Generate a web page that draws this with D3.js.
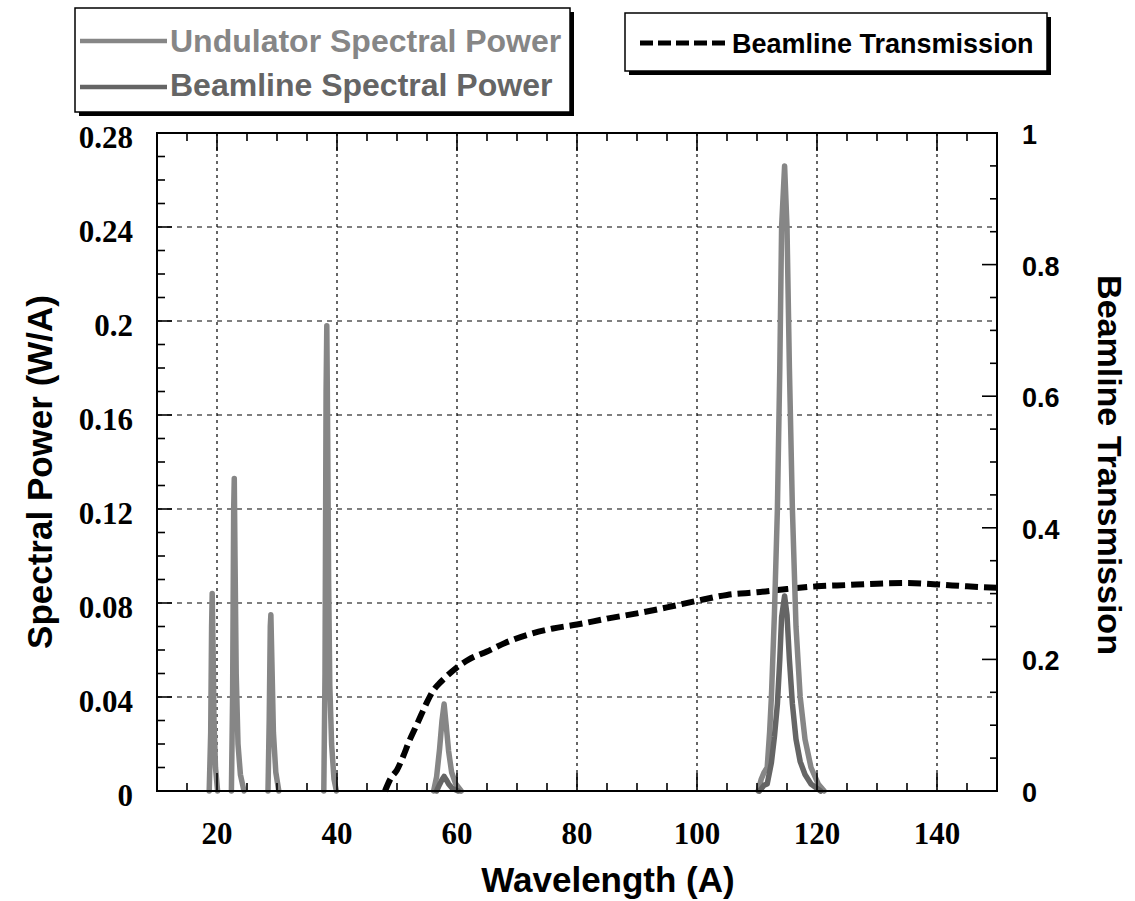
<!DOCTYPE html>
<html><head><meta charset="utf-8">
<script src="https://cdn.jsdelivr.net/npm/d3@7"></script>
<style>body{margin:0;background:#fff}svg{display:block}</style>
</head><body>
<svg id="c" width="1135" height="901"></svg>
<script>
// ---- data (wavelength in Angstrom) ----
const xMajorTicks = [20, 40, 60, 80, 100, 120, 140];
const yLeftTicks = [0, 0.04, 0.08, 0.12, 0.16, 0.2, 0.24, 0.28];
const yLeftLabels = ["0", "0.04", "0.08", "0.12", "0.16", "0.2", "0.24", "0.28"];
const yRightTicks = [0, 0.2, 0.4, 0.6, 0.8, 1];
const yRightLabels = ["0", "0.2", "0.4", "0.6", "0.8", "1"];

// Undulator spectral power (W/A), one segment per harmonic peak
const undulatorSegments = [
  [[18.7,0],[18.95,0.025],[19.1,0.07],[19.2,0.084],[19.35,0.06],[19.5,0.03],[19.75,0.01],[20.1,0]],
  [[22.4,0],[22.6,0.04],[22.78,0.12],[22.88,0.133],[23.0,0.10],[23.2,0.05],[23.5,0.02],[23.9,0.007],[24.5,0]],
  [[28.5,0],[28.7,0.03],[28.88,0.07],[28.98,0.075],[29.15,0.055],[29.4,0.025],[29.8,0.008],[30.3,0]],
  [[37.8,0],[38.0,0.05],[38.18,0.17],[38.3,0.198],[38.45,0.15],[38.6,0.09],[38.8,0.045],[39.1,0.02],[39.5,0.005],[39.9,0]],
  [[56.1,0],[56.6,0.006],[57.1,0.018],[57.5,0.03],[57.85,0.037],[58.2,0.028],[58.6,0.017],[59.1,0.008],[59.8,0.003],[60.7,0]],
  [[110.2,0],[110.7,0.005],[111.2,0.008],[111.7,0.01],[112.1,0.025],[112.4,0.04],[112.9,0.075],[113.4,0.12],[113.8,0.18],[114.1,0.24],[114.6,0.266],[115.0,0.24],[115.4,0.18],[115.9,0.12],[116.5,0.07],[117.2,0.04],[118.0,0.022],[119.0,0.01],[120.2,0.003],[121.2,0]]
];

// Beamline spectral power (W/A)
const beamlineSegments = [
  [[56.6,0],[57.1,0.0028],[57.5,0.0048],[57.85,0.0062],[58.2,0.0048],[58.6,0.003],[59.2,0.0012],[60.2,0]],
  [[110.4,0],[111.2,0.0025],[111.7,0.003],[112.4,0.012],[112.9,0.023],[113.4,0.037],[113.8,0.056],[114.1,0.074],[114.6,0.083],[115.0,0.075],[115.4,0.056],[115.9,0.037],[116.5,0.022],[117.2,0.0125],[118.0,0.007],[119.0,0.003],[120.6,0]]
];

// Beamline transmission (right axis)
const transWl = [48, 49, 50, 51, 52, 53, 54, 55, 56, 57, 58, 60, 62, 65, 68, 72, 76, 80, 85, 90, 95, 100, 105, 110, 115, 120, 125, 130, 135, 140, 145, 150];
const transVal = [0.0, 0.02, 0.032, 0.052, 0.075, 0.095, 0.115, 0.135, 0.152, 0.163, 0.172, 0.188, 0.2, 0.212, 0.225, 0.238, 0.247, 0.253, 0.262, 0.27, 0.279, 0.289, 0.298, 0.302, 0.307, 0.311, 0.313, 0.315, 0.316, 0.314, 0.311, 0.309];

// ---- layout ----
const svg = d3.select("#c");
const L = 157, R = 997, T = 133, B = 791;
const x = d3.scaleLinear().domain([10, 150]).range([L, R]);
const yL = d3.scaleLinear().domain([0, 0.28]).range([B, T]);
const yR = d3.scaleLinear().domain([0, 1]).range([B, T]);
const serif = "'Liberation Serif','Times New Roman',serif";
const sans = "'Liberation Sans',Arial,Helvetica,sans-serif";
const cUnd = "#868686", cBeam = "#656565";

// gridlines
const g = svg.append("g");
g.selectAll("line.vg").data(xMajorTicks).join("line")
  .attr("x1", d => x(d)).attr("x2", d => x(d)).attr("y1", T).attr("y2", B)
  .attr("stroke", "#000").attr("stroke-width", 1.2).attr("stroke-dasharray", "3,4");
g.selectAll("line.hg").data(yLeftTicks.filter(d => d > 0 && d < 0.28)).join("line")
  .attr("x1", L).attr("x2", R).attr("y1", d => yL(d)).attr("y2", d => yL(d))
  .attr("stroke", "#000").attr("stroke-width", 1.2).attr("stroke-dasharray", "5,5");

// transmission
const tData = transWl.map((w, i) => [w, transVal[i]]);
svg.append("path").datum(tData)
  .attr("d", d3.line().x(d => x(d[0])).y(d => yR(d[1])).curve(d3.curveMonotoneX))
  .attr("fill", "none").attr("stroke", "#000").attr("stroke-width", 6)
  .attr("stroke-dasharray", "13,6");

// spectra
const line = d3.line().x(d => x(d[0])).y(d => yL(d[1]));
svg.append("g").selectAll("path").data(undulatorSegments).join("path")
  .attr("d", line).attr("fill", "none").attr("stroke", cUnd).attr("stroke-width", 5.5)
  .attr("stroke-linejoin", "round").attr("stroke-linecap", "round");
svg.append("g").selectAll("path").data(beamlineSegments).join("path")
  .attr("d", line).attr("fill", "none").attr("stroke", cBeam).attr("stroke-width", 5.5)
  .attr("stroke-linejoin", "round").attr("stroke-linecap", "round");

// frame
svg.append("rect").attr("x", L).attr("y", T).attr("width", R - L).attr("height", B - T)
  .attr("fill", "none").attr("stroke", "#000").attr("stroke-width", 2);

// ticks
const xMinor = d3.range(15, 150, 5);
const ax = svg.append("g").attr("stroke", "#000").attr("stroke-width", 1.6);
xMinor.forEach(v => {
  const major = v % 20 === 0;
  const len = major ? 18 : 8;
  ax.append("line").attr("x1", x(v)).attr("x2", x(v)).attr("y1", B).attr("y2", B - len);
  ax.append("line").attr("x1", x(v)).attr("x2", x(v)).attr("y1", T).attr("y2", T + len);
});
d3.range(1, 28).forEach(k => {
  const v = k / 100;
  const len = k % 4 === 0 ? 15 : 8;
  ax.append("line").attr("x1", L).attr("x2", L + len).attr("y1", yL(v)).attr("y2", yL(v));
});
d3.range(1, 20).forEach(k => {
  const v = k / 20;
  const len = k % 4 === 0 ? 15 : 7;
  ax.append("line").attr("x1", R).attr("x2", R - len).attr("y1", yR(v)).attr("y2", yR(v));
});

// tick labels
svg.append("g").selectAll("text").data(xMajorTicks).join("text")
  .attr("x", d => x(d)).attr("y", 844).attr("text-anchor", "middle")
  .attr("font-family", serif).attr("font-weight", "bold").attr("font-size", 31).text(d => d);
svg.append("g").selectAll("text").data(yLeftTicks).join("text")
  .attr("x", 133).attr("y", d => yL(d) + 15).attr("text-anchor", "end")
  .attr("font-family", serif).attr("font-weight", "bold").attr("font-size", 31)
  .text((d, i) => yLeftLabels[i]);
svg.append("g").selectAll("text").data(yRightTicks).join("text")
  .attr("x", 1022).attr("y", d => yR(d) + 11).attr("text-anchor", "start")
  .attr("font-family", sans).attr("font-weight", "bold").attr("font-size", 27)
  .text((d, i) => yRightLabels[i]);

// axis titles
svg.append("text").attr("x", 608).attr("y", 892).attr("text-anchor", "middle")
  .attr("font-family", sans).attr("font-weight", "bold").attr("font-size", 35).text("Wavelength (A)");
svg.append("text").attr("transform", "translate(52,472) rotate(-90)").attr("text-anchor", "middle")
  .attr("font-family", sans).attr("font-weight", "bold").attr("font-size", 35).text("Spectral Power (W/A)");
svg.append("text").attr("transform", "translate(1098,465) rotate(90)").attr("text-anchor", "middle")
  .attr("font-family", sans).attr("font-weight", "bold").attr("font-size", 34).text("Beamline Transmission");

// legends
function box(x0, y0, w, h) {
  svg.append("rect").attr("x", x0 + 4).attr("y", y0 + 4).attr("width", w).attr("height", h).attr("fill", "#000");
  svg.append("rect").attr("x", x0).attr("y", y0).attr("width", w).attr("height", h)
    .attr("fill", "#fff").attr("stroke", "#000").attr("stroke-width", 1.5);
}
box(75, 8, 495, 104);
const leg1 = [{t: "Undulator Spectral Power", c: cUnd, ly: 41, ty: 52}, {t: "Beamline Spectral Power", c: cBeam, ly: 87, ty: 96}];
leg1.forEach(d => {
  svg.append("line").attr("x1", 80).attr("x2", 167).attr("y1", d.ly).attr("y2", d.ly)
    .attr("stroke", d.c).attr("stroke-width", 4.5);
  svg.append("text").attr("x", 170).attr("y", d.ty).attr("font-family", sans).attr("font-weight", "bold")
    .attr("font-size", 32).attr("fill", d.c).text(d.t);
});
box(625, 13, 422, 58);
svg.append("line").attr("x1", 640).attr("x2", 728).attr("y1", 43).attr("y2", 43)
  .attr("stroke", "#000").attr("stroke-width", 5).attr("stroke-dasharray", "13,5");
svg.append("text").attr("x", 732).attr("y", 53).attr("font-family", sans).attr("font-weight", "bold")
  .attr("font-size", 27).attr("fill", "#000").text("Beamline Transmission");
</script>
</body></html>
